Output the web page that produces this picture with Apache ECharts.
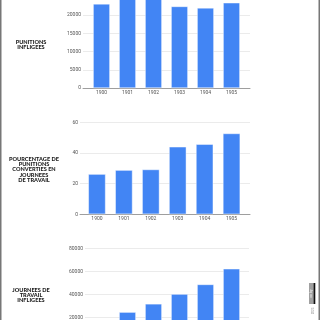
<!DOCTYPE html>
<html>
<head>
<meta charset="utf-8">
<script src="https://cdn.jsdelivr.net/npm/echarts@6.0.0/dist/echarts.min.js"></script>
<style>
html, body { margin: 0; padding: 0; background: #fff; }
#chart { width: 320px; height: 320px; }
</style>
</head>
<body>
<div id="chart"></div>
<script>
// données
var years = ['1900', '1901', '1902', '1903', '1904', '1905'];
var punitions = [23100, 25400, 25800, 22400, 22000, 23400];
var pourcentage = [26.3, 28.9, 29.3, 44.1, 45.8, 52.8];
var journees = [14000, 24600, 31800, 40300, 48700, 62300];

var titres = [
    'PUNITIONS\nINFLIGEES',
    'POURCENTAGE DE\nPUNITIONS\nCONVERTIES EN\nJOURNEES\nDE TRAVAIL',
    'JOURNEES DE\nTRAVAIL\nINFLIGEES'
];

var blue = '#4285f4';
var font = 'Roboto';

// trois panneaux : fond (grille + axe y) et avant (barres + annees)
var panels = [
    { top: -21.5, height: 109.7, max: 30000, interval: 5000, back: [83, 70], front: [88.5, 75.5], data: punitions, bw: 17 },
    { top: 122.3, height: 92, max: 60, interval: 20, back: [80, 70], front: [83.5, 75], data: pourcentage, bw: 17.5 },
    { top: 248.3, height: 92, max: 80000, interval: 20000, back: [85, 71], front: [88.5, 75.5], data: journees, bw: 17 }
];

var grid = [], xAxis = [], yAxis = [], series = [];
panels.forEach(function (p, i) {
    var b = grid.length;
    grid.push({ left: p.back[0], right: p.back[1], top: p.top, height: p.height, outerBoundsMode: 'none', containLabel: false });
    grid.push({ left: p.front[0], right: p.front[1], top: p.top, height: p.height, outerBoundsMode: 'none', containLabel: false });
    xAxis.push({
        type: 'category', gridIndex: b, data: years,
        axisLine: { lineStyle: { color: '#9e9e9e', width: 1 } },
        axisTick: { show: false }, axisLabel: { show: false }
    });
    xAxis.push({
        type: 'category', gridIndex: b + 1, data: years,
        axisLine: { show: false }, axisTick: { show: false },
        axisLabel: { fontSize: 5, color: '#555', fontFamily: font, margin: 2 }
    });
    yAxis.push({
        type: 'value', gridIndex: b, min: 0, max: p.max, interval: p.interval,
        axisLabel: {
            fontSize: 5, color: '#555', fontFamily: font, margin: 2,
            formatter: function (v) { return String(v); }
        },
        splitLine: { lineStyle: { color: '#ebebeb', width: 1 } },
        axisLine: { show: false }, axisTick: { show: false }
    });
    yAxis.push({
        type: 'value', gridIndex: b + 1, min: 0, max: p.max, interval: p.interval, show: false,
        splitLine: { show: false }
    });
    series.push({
        type: 'bar', xAxisIndex: b + 1, yAxisIndex: b + 1, data: p.data,
        barWidth: p.bw, clip: true,
        itemStyle: { color: blue, borderColor: 'rgba(255,255,255,0.55)', borderWidth: 0.8 }
    });
});

var labelPos = [[31, 45], [34, 169.5], [31, 295]];
var graphic = titres.map(function (t, i) {
    return {
        type: 'text', x: labelPos[i][0], y: labelPos[i][1],
        style: {
            text: t, align: 'center', verticalAlign: 'middle',
            fontSize: 5.6, fontWeight: 900, fontFamily: 'Lato', lineHeight: 5.2, fill: '#1a1a1a'
        }
    };
});
// bordures et petit logo
graphic.push({ type: 'rect', shape: { x: 0, y: 0, width: 1.5, height: 320 }, style: { fill: '#777' } });
graphic.push({ type: 'rect', shape: { x: 318.5, y: 0, width: 1.5, height: 320 }, style: { fill: '#777' } });
graphic.push({ type: 'rect', shape: { x: 309, y: 283, width: 4.5, height: 21 }, style: { fill: '#a0a0a0' } });
graphic.push({ type: 'rect', shape: { x: 313.5, y: 283, width: 1.8, height: 21 }, style: { fill: '#111' } });
graphic.push({
    type: 'text', x: 311.2, y: 293.5, rotation: Math.PI / 2,
    style: { text: 'cc by', align: 'center', verticalAlign: 'middle', fontSize: 3.5, fill: '#fff', fontFamily: font }
});
graphic.push({
    type: 'text', x: 313, y: 311, rotation: Math.PI / 2,
    style: { text: '2023', align: 'center', verticalAlign: 'middle', fontSize: 3, fill: '#888', fontFamily: font }
});

var myChart = echarts.init(document.getElementById('chart'));
myChart.setOption({
    backgroundColor: '#fff',
    animation: false,
    grid: grid,
    xAxis: xAxis,
    yAxis: yAxis,
    series: series,
    graphic: graphic
});
</script>
</body>
</html>
